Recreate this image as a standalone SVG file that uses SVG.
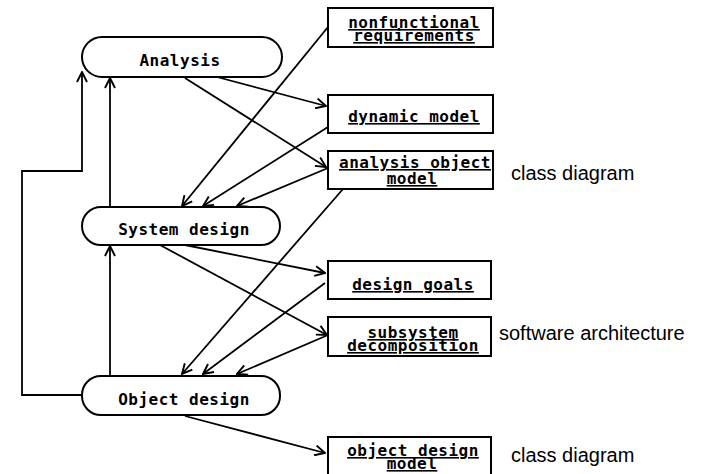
<svg xmlns="http://www.w3.org/2000/svg" width="719" height="474" viewBox="0 0 719 474">
  <style>
    .bg { fill: #ffffff; }
    .activity { fill: #ffffff; stroke: #000000; stroke-width: 2; }
    .product { fill: #ffffff; stroke: #000000; stroke-width: 2; }
    .label { font-family: "DejaVu Sans Mono", "Liberation Mono", monospace; font-weight: bold; font-size: 16px; letter-spacing: 0.5px; fill: #000000; text-anchor: middle; }
    .obj { text-decoration: underline; text-decoration-thickness: 2px; }
    .note { font-family: "Liberation Sans", Arial, sans-serif; font-size: 20px; fill: #000000; }
    .edge { fill: none; stroke: #000000; stroke-width: 1.8; marker-end: url(#open); }
  </style>
  <defs>
    <marker id="open" viewBox="0 0 12 12" refX="11" refY="6" markerWidth="12" markerHeight="12" markerUnits="userSpaceOnUse" orient="auto">
      <path d="M1,1 L11,6 L1,11" fill="none" stroke="#000000" stroke-width="1.9"/>
    </marker>
  </defs>
  <rect class="bg" x="0" y="0" width="719" height="474"/>

  <!-- activities -->
  <g id="analysis">
    <rect class="activity" x="82" y="37" width="200" height="40" rx="20" ry="20"/>
    <text class="label" x="180" y="66">Analysis</text>
  </g>
  <g id="system-design">
    <rect class="activity" x="82" y="207" width="198" height="38" rx="19" ry="19"/>
    <text class="label" x="184" y="235">System design</text>
  </g>
  <g id="object-design">
    <rect class="activity" x="82" y="376" width="198" height="39" rx="19" ry="19"/>
    <text class="label" x="184" y="405">Object design</text>
  </g>

  <!-- work products -->
  <g id="nonfunctional-requirements">
    <rect class="product" x="328" y="8" width="165" height="39"/>
    <text class="label obj" x="414" y="28">nonfunctional</text>
    <text class="label obj" x="414" y="41">requirements</text>
  </g>
  <g id="dynamic-model">
    <rect class="product" x="328" y="95" width="165" height="38"/>
    <text class="label obj" x="414" y="122">dynamic model</text>
  </g>
  <g id="analysis-object-model">
    <rect class="product" x="328" y="151" width="165" height="38"/>
    <text class="label obj" x="415" y="168">analysis object</text>
    <text class="label obj" x="412" y="184">model</text>
  </g>
  <g id="design-goals">
    <rect class="product" x="328" y="261" width="163" height="38"/>
    <text class="label obj" x="413" y="290">design goals</text>
  </g>
  <g id="subsystem-decomposition">
    <rect class="product" x="328" y="317" width="163" height="39"/>
    <text class="label obj" x="413" y="338">subsystem</text>
    <text class="label obj" x="413" y="351">decomposition</text>
  </g>
  <g id="object-design-model">
    <rect class="product" x="328" y="437" width="163" height="40"/>
    <text class="label obj" x="413" y="456">object design</text>
    <text class="label obj" x="412" y="469">model</text>
  </g>

  <!-- side notes -->
  <text class="note" x="511" y="180">class diagram</text>
  <text class="note" x="499" y="340">software architecture</text>
  <text class="note" x="511" y="462">class diagram</text>

  <!-- connectors -->
  <g id="connectors">
    <polyline class="edge" points="82,395 22,395 22,171 82,171 82,72"/>
    <line class="edge" x1="110" y1="207" x2="110" y2="78"/>
    <line class="edge" x1="110" y1="376" x2="110" y2="246"/>
    <line class="edge" x1="217" y1="77" x2="326" y2="106"/>
    <line class="edge" x1="185" y1="78" x2="326" y2="167"/>
    <line class="edge" x1="328" y1="27" x2="182" y2="206"/>
    <line class="edge" x1="328" y1="127" x2="203" y2="206"/>
    <line class="edge" x1="328" y1="168" x2="237" y2="206"/>
    <line class="edge" x1="343" y1="189" x2="182" y2="374"/>
    <line class="edge" x1="185" y1="245" x2="325" y2="273"/>
    <line class="edge" x1="160" y1="245" x2="327" y2="335"/>
    <line class="edge" x1="325" y1="283" x2="203" y2="374"/>
    <line class="edge" x1="328" y1="335" x2="237" y2="374"/>
    <line class="edge" x1="185" y1="416" x2="325" y2="453"/>
  </g>
</svg>
